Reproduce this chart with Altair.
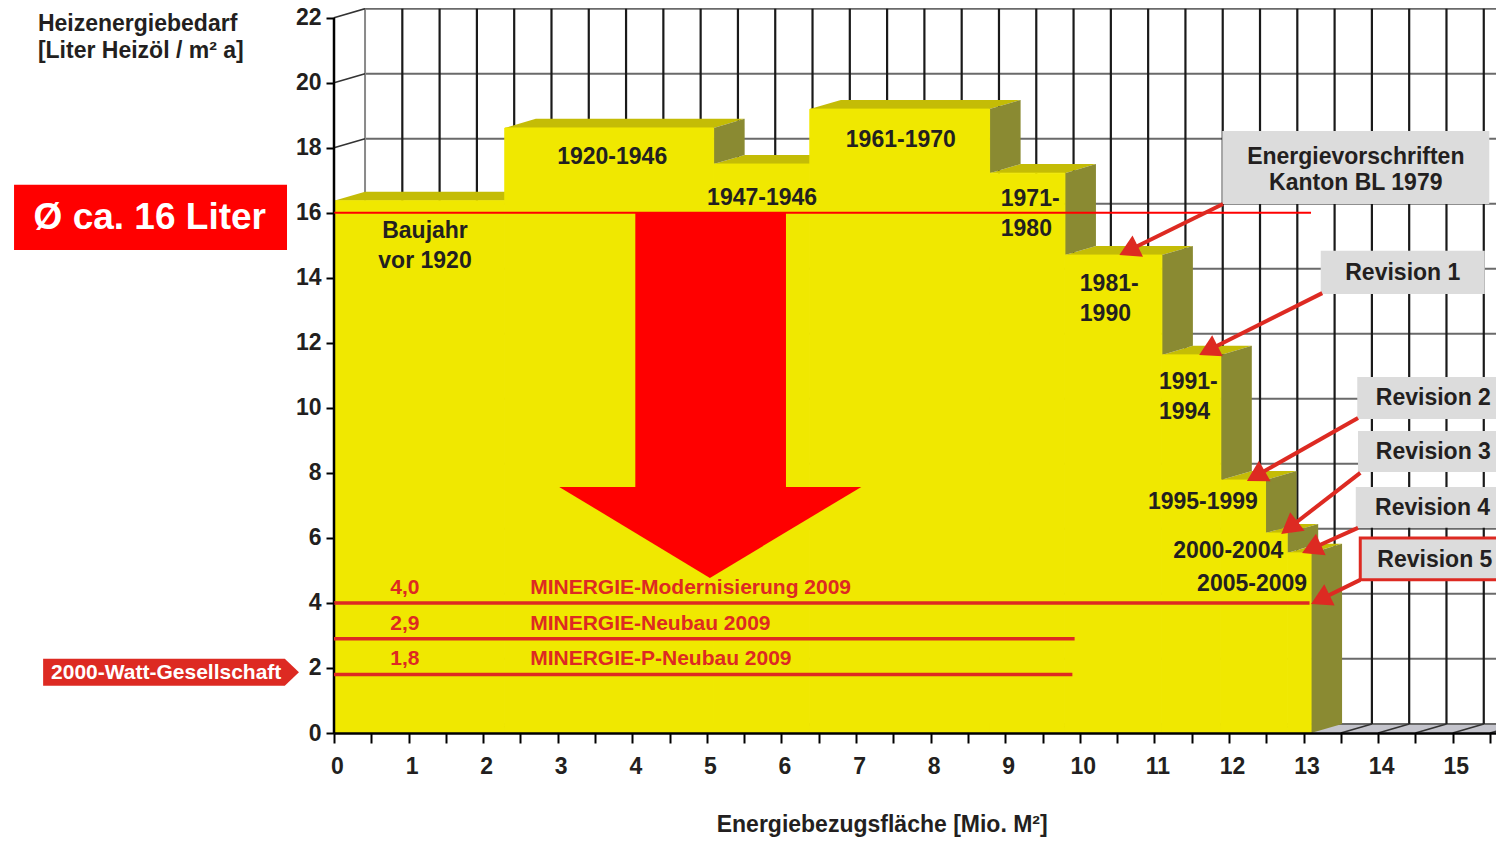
import math
import altair as alt
import pandas as pd

# ---------------- data ----------------
periods = ["Baujahr vor 1920", "1920-1946", "1947-1946", "1961-1970", "1971-1980",
           "1981-1990", "1991-1994", "1995-1999", "2000-2004", "2005-2009"]
area_end = [2.29, 5.09, 6.38, 8.79, 9.80, 11.10, 11.89, 12.49, 12.78, 13.10]   # Mio. m2, cumulative
demand = [16.37, 18.61, 17.50, 19.19, 17.22, 14.70, 11.63, 7.78, 6.15, 5.54]    # l Heizöl / m2 a

avg_demand = 16.0
avg_label = "Ø ca. 16 Liter"
avg_end = 13.10

minergie_names = ["MINERGIE-Modernisierung 2009", "MINERGIE-Neubau 2009", "MINERGIE-P-Neubau 2009"]
minergie_labels = ["4,0", "2,9", "1,8"]
minergie_values = [4.0, 2.9, 1.8]
minergie_end = [13.08, 9.93, 9.90]

revision_names = [["Energievorschriften", "Kanton BL 1979"], ["Revision 1"], ["Revision 2"],
                  ["Revision 3"], ["Revision 4"], ["Revision 5"]]
revision_tip_x = [10.53, 11.60, 12.24, 12.70, 12.98, 13.10]
revision_tip_y = [14.70, 11.63, 7.75, 6.12, 5.54, 3.97]

x_ticks = [k * 0.5 for k in range(32)]
y_ticks = list(range(0, 23, 2))

# ---------------- layout / style ----------------
W, H = 1162, 725
XMAX, YMAX = 15.58, 22.30
KX, KY = W / XMAX, H / YMAX
DX, DY = 0.416, 0.28          # depth of the 3D effect (data units)
XR = 16.0

FONT = "Liberation Sans"
INK = "#231F20"
YELLOW = "#F0E800"
TOPC = "#C4BC06"
SIDEC = "#8A8A32"
RED = "#FF0000"
RED2 = "#DD2A22"
BOXC = "#DCDCDC"

xs = alt.Scale(domain=[0, XMAX], nice=False, zero=False)
ys = alt.Scale(domain=[0, YMAX], nice=False, zero=False)

axis_common = dict(labelFont=FONT, labelFontWeight="bold", labelFontSize=23, labelColor=INK,
                   tickColor="black", tickWidth=2, grid=False, title=None, zindex=1,
                   labelOverlap=False, labelFlush=False)
x_axis = alt.Axis(values=x_ticks, tickSize=10, labelPadding=12, labelOffset=3,
                  domainColor="black", domainWidth=2.5,
                  labelExpr="datum.value % 1 === 0 ? format(datum.value, 'd') : ''", **axis_common)
y_axis = alt.Axis(values=y_ticks, tickSize=8, labelPadding=5, domain=False, **axis_common)


def X(f):
    return alt.X(f"{f}:Q", scale=xs, axis=x_axis)


def Y(f):
    return alt.Y(f"{f}:Q", scale=ys, axis=y_axis)


def rules(rows, color, width):
    return alt.Chart(pd.DataFrame(rows)).mark_rule(color=color, strokeWidth=width).encode(
        x=X("x"), y=Y("y"), x2=alt.X2("x2"), y2=alt.Y2("y2"))


# back wall, left wall, floor
h_rows = [dict(x=DX, y=v + DY, x2=XR, y2=v + DY) for v in y_ticks]
v_rows = [dict(x=k * 0.5 + DX, y=DY, x2=k * 0.5 + DX, y2=22 + DY) for k in range(1, 31)]
edge_rows = [dict(x=DX, y=DY, x2=DX, y2=22 + DY)]
d_rows = [dict(x=0, y=v, x2=DX, y2=v + DY) for v in y_ticks]
f_rows = [dict(x=t, y=0, x2=t + DX, y2=DY) for t in x_ticks]

floor = alt.Chart(pd.DataFrame([dict(x=0, x2=XR, y=0, y2=DY)])).mark_rect(color="#C4C4CC").encode(
    x=X("x"), x2=alt.X2("x2"), y=Y("y"), y2=alt.Y2("y2"))

# steps
x_left = [0.0] + area_end[:-1]
top_rows, side_rows, front_rows = [], [], []
for i, (x1, x2, h) in enumerate(zip(x_left, area_end, demand)):
    for xx in sorted({x1, x2, x1 + DX, x2 + DX}):
        lo = h + min(max((xx - x2) / DX, 0), 1) * DY
        hi = h + min(max((xx - x1) / DX, 0), 1) * DY
        top_rows.append(dict(id=i, x=xx, lo=lo, hi=hi))
    nxt = demand[i + 1] if i + 1 < len(demand) else 0.0
    if nxt < h:
        side_rows.append(dict(id=i, x=x2, lo=nxt, hi=h))
        side_rows.append(dict(id=i, x=x2 + DX, lo=nxt + DY, hi=h + DY))
    front_rows.append(dict(period=periods[i], x=x1, x2=x2, y=h, y2=0.0))

tops = alt.Chart(pd.DataFrame(top_rows)).mark_area(orient="vertical", color=TOPC).encode(
    x=X("x"), y=Y("hi"), y2=alt.Y2("lo"), detail="id:N")
sides = alt.Chart(pd.DataFrame(side_rows)).mark_area(orient="vertical", color=SIDEC).encode(
    x=X("x"), y=Y("hi"), y2=alt.Y2("lo"), detail="id:N")
fronts = alt.Chart(pd.DataFrame(front_rows)).mark_rect(
    fill=YELLOW, stroke=YELLOW, strokeWidth=1).encode(
    x=X("x"), x2=alt.X2("x2"), y=Y("y"), y2=alt.Y2("y2"))

y_line = rules([dict(x=0, y=0, x2=0, y2=22)], "black", 2.5)
avg_line = rules([dict(x=0, y=avg_demand, x2=avg_end, y2=avg_demand)], RED, 2)

# big red arrow
shaft = alt.Chart(pd.DataFrame([dict(x=4.04, x2=6.06, y=avg_demand, y2=7.55)])).mark_rect(color=RED).encode(
    x=X("x"), x2=alt.X2("x2"), y=Y("y"), y2=alt.Y2("y2"))
head = alt.Chart(pd.DataFrame([dict(x=3.02, lo=7.57, hi=7.57), dict(x=5.04, lo=4.77, hi=7.57),
                               dict(x=7.07, lo=7.57, hi=7.57)])).mark_area(orient="vertical", color=RED).encode(
    x=X("x"), y=Y("hi"), y2=alt.Y2("lo"))

# MINERGIE lines
m_df = pd.DataFrame(dict(name=minergie_names, lab=minergie_labels, v=minergie_values,
                         end=minergie_end, zero=0.0, lx=0.95, nx=2.63))
m_lines = alt.Chart(m_df).mark_rule(color=RED2, strokeWidth=3.5).encode(
    x=X("zero"), x2=alt.X2("end"), y=Y("v"))
m_vals = alt.Chart(m_df).mark_text(font=FONT, fontWeight="bold", fontSize=21, color=RED2,
                                   align="center", baseline="middle", dy=-15).encode(
    x=X("lx"), y=Y("v"), text="lab:N")
m_names = alt.Chart(m_df).mark_text(font=FONT, fontWeight="bold", fontSize=21, color=RED2,
                                    align="left", baseline="middle", dy=-15).encode(
    x=X("nx"), y=Y("v"), text="name:N")

# step labels
lab_c = pd.DataFrame([
    dict(t="Baujahr", x=1.22, y=15.44), dict(t="vor 1920", x=1.22, y=14.52),
    dict(t="1920-1946", x=3.73, y=17.72), dict(t="1947-1946", x=5.74, y=16.46),
    dict(t="1961-1970", x=7.60, y=18.24), dict(t="1995-1999", x=11.65, y=7.11),
    dict(t="2000-2004", x=11.99, y=5.60), dict(t="2005-2009", x=12.31, y=4.58)])
lab_l = pd.DataFrame([
    dict(t="1971-", x=8.94, y=16.43), dict(t="1980", x=8.94, y=15.50),
    dict(t="1981-", x=10.00, y=13.81), dict(t="1990", x=10.00, y=12.89),
    dict(t="1991-", x=11.06, y=10.80), dict(t="1994", x=11.06, y=9.87)])


def texts(df, align, size=23, color=INK):
    return alt.Chart(df).mark_text(font=FONT, fontWeight="bold", fontSize=size, color=color,
                                   align=align, baseline="middle").encode(
        x=X("x"), y=Y("y"), text="t:N")


# callout boxes
box_x1 = [11.91, 13.23, 13.72, 13.73, 13.70, 13.76]
box_x2 = [15.49, 15.43, 15.80, 15.80, 15.80, 15.80]
box_y1 = [18.52, 14.83, 10.95, 9.29, 7.57, 6.00]
box_y2 = [16.27, 13.50, 9.66, 8.03, 6.31, 4.71]
box_tx = [13.70, 14.33, 14.74, 14.74, 14.73, 14.76]
box_ty = [17.32, 14.15, 10.30, 8.64, 6.92, 5.32]
arr_sx = [11.92, 13.25, 13.73, 13.76, 13.73, 13.76]
arr_sy = [16.27, 13.53, 9.69, 8.00, 6.31, 4.71]

box_rows, box_txt, arr_rows, head_rows = [], [], [], []
HEAD = 560
rr = math.sqrt(HEAD) / 2
hh = math.sqrt(3) / 2 * rr
for i, lines in enumerate(revision_names):
    last = i == len(revision_names) - 1
    box_rows.append(dict(x=box_x1[i], x2=box_x2[i], y=box_y1[i], y2=box_y2[i],
                         sc=RED2 if last else BOXC, sw=3 if last else 0))
    n = len(lines)
    for j, t in enumerate(lines):
        box_txt.append(dict(t=t, x=box_tx[i], y=box_ty[i] + ((n - 1) / 2 - j) * 0.80))
    tx, ty, sx, sy = revision_tip_x[i], revision_tip_y[i], arr_sx[i], arr_sy[i]
    dxp, dyp = (tx - sx) * KX, -(ty - sy) * KY
    L = math.hypot(dxp, dyp)
    ux, uy = dxp / L, dyp / L
    ang = math.degrees(math.atan2(ux, -uy)) % 360
    cx, cy = tx - ux * hh / KX, ty + uy * hh / KY
    arr_rows.append(dict(x=sx, y=sy, x2=cx, y2=cy))
    head_rows.append(dict(x=cx, y=cy, ang=ang))

boxes = alt.Chart(pd.DataFrame(box_rows)).mark_rect(fill=BOXC).encode(
    x=X("x"), x2=alt.X2("x2"), y=Y("y"), y2=alt.Y2("y2"),
    stroke=alt.Stroke("sc:N", scale=None), strokeWidth=alt.StrokeWidth("sw:Q", scale=None))
arr_lines = rules(arr_rows, RED2, 4)
arr_heads = alt.Chart(pd.DataFrame(head_rows)).mark_point(
    shape="triangle-up", filled=True, size=HEAD, color=RED2, opacity=1, strokeWidth=0).encode(
    x=X("x"), y=Y("y"), angle=alt.Angle("ang:Q", scale=None))

# left side annotations
ytitle = texts(pd.DataFrame([dict(t="Heizenergiebedarf", x=-3.97, y=21.81),
                             dict(t="[Liter Heizöl / m² a]", x=-3.97, y=20.98)]), "left", 23)
avg_box = alt.Chart(pd.DataFrame([dict(x=-4.29, x2=-0.63, y=16.86, y2=14.86)])).mark_rect(color=RED).encode(
    x=X("x"), x2=alt.X2("x2"), y=Y("y"), y2=alt.Y2("y2"))
avg_txt = texts(pd.DataFrame([dict(t=avg_label, x=-2.47, y=15.84)]), "center", 37, "white")
watt_shape = alt.Chart(pd.DataFrame([dict(x=-3.90, lo=1.45, hi=2.28), dict(x=-0.66, lo=1.45, hi=2.28),
                                     dict(x=-0.47, lo=1.865, hi=1.865)])).mark_area(
    orient="vertical", color=RED2).encode(x=X("x"), y=Y("hi"), y2=alt.Y2("lo"))
watt_txt = texts(pd.DataFrame([dict(t="2000-Watt-Gesellschaft", x=-2.25, y=1.85)]), "center", 21, "white")
xtitle = texts(pd.DataFrame([dict(t="Energiebezugsfläche [Mio. M²]", x=7.35, y=-2.83)]), "center", 23)

chart = alt.layer(
    floor,
    rules(h_rows, "#6A6A6A", 2),
    rules(v_rows, "#1A1A1A", 2.2),
    rules(edge_rows, "#8A8A8A", 2),
    rules(d_rows, "#333333", 1.6),
    rules(f_rows, "#333333", 1.6),
    tops, sides, fronts,
    y_line, avg_line, shaft, head,
    m_lines, m_vals, m_names,
    texts(lab_c, "center"), texts(lab_l, "left"),
    boxes, texts(pd.DataFrame(box_txt), "center"),
    arr_lines, arr_heads,
    ytitle, avg_box, avg_txt, watt_shape, watt_txt, xtitle,
).properties(
    width=W, height=H,
    autosize=alt.AutoSizeParams(type="none"),
    padding={"left": 326, "top": 0, "right": 0, "bottom": 107},
    background="white",
).configure_view(strokeWidth=0)

chart.save("out.html", embed_options={"renderer": "svg", "actions": False})
